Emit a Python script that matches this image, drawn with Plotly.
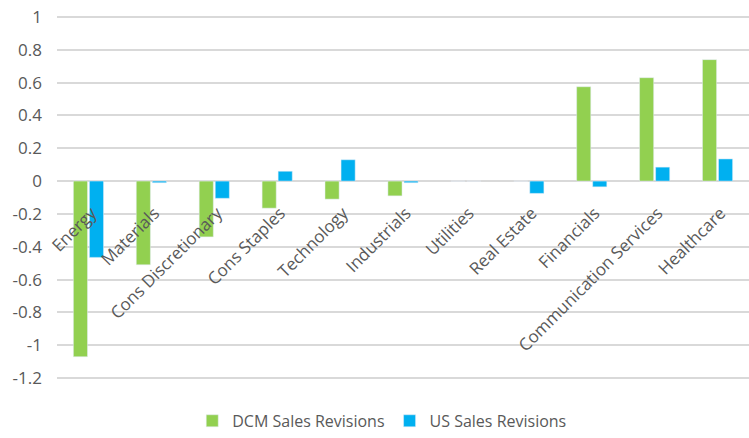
import plotly.graph_objects as go

categories = ["Energy", "Materials", "Cons Discretionary", "Cons Staples", "Technology",
              "Industrials", "Utilities", "Real Estate", "Financials",
              "Communication Services", "Healthcare"]
dcm = [-1.07, -0.51, -0.34, -0.165, -0.11, -0.09, 0.0, 0.0, 0.575, 0.63, 0.74]
us = [-0.465, -0.01, -0.105, 0.06, 0.13, -0.01, 0.0, -0.075, -0.035, 0.085, 0.135]
ytick_vals = [1, 0.8, 0.6, 0.4, 0.2, 0, -0.2, -0.4, -0.6, -0.8, -1, -1.2]
ytick_text = ["1", "0.8", "0.6", "0.4", "0.2", "0", "-0.2", "-0.4", "-0.6", "-0.8", "-1", "-1.2"]

FONT = "Open Sans"
GRAY = "#595959"

fig = go.Figure()
fig.add_trace(go.Bar(x=categories, y=dcm, name="DCM Sales Revisions", marker_color="#92D050"))
fig.add_trace(go.Bar(x=categories, y=us, name="US Sales Revisions", marker_color="#00B0F0"))

ymin, ymax = -1.212, 1.012
fig.update_layout(
    width=749, height=438,
    margin=dict(l=57, r=0, t=15, b=48),
    paper_bgcolor="white", plot_bgcolor="white",
    barmode="group", bargap=0.49, bargroupgap=0.12,
    font=dict(family=FONT, color=GRAY, size=16),
    showlegend=True,
    legend=dict(orientation="h", x=0.47, xanchor="center", y=-0.112, yanchor="middle",
                font=dict(size=16, color=GRAY), itemwidth=30, traceorder="normal"),
    xaxis=dict(anchor="free", position=(0 - ymin) / (ymax - ymin), showgrid=False,
               showline=False, ticks="", tickangle=-45, tickfont=dict(size=17, color=GRAY),
               zeroline=False, ticklabelshift=3, ticklabelstandoff=18),
    yaxis=dict(range=[ymin, ymax], tickvals=ytick_vals, ticktext=ytick_text,
               showgrid=True, gridcolor="#d9d9d9", gridwidth=1.5, zeroline=True,
               zerolinecolor="#d9d9d9", zerolinewidth=1.5, showline=False,
               tickfont=dict(size=17, color=GRAY), ticklabelstandoff=14),
)
fig.write_html("out.html")
